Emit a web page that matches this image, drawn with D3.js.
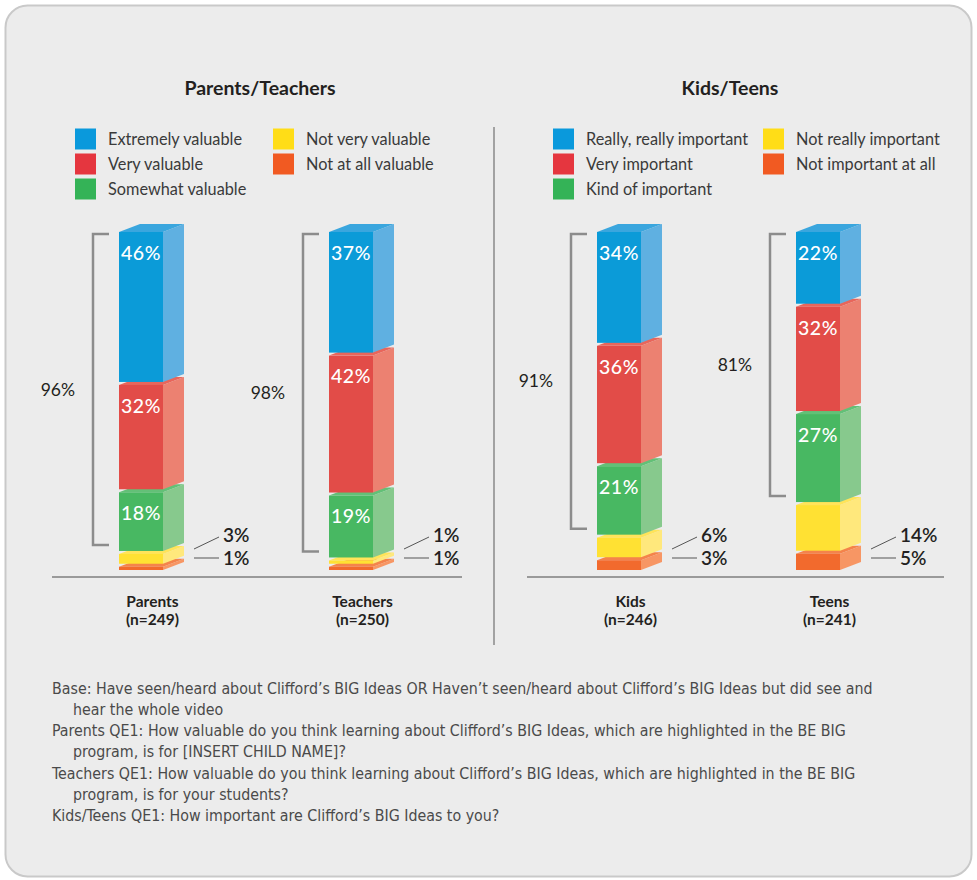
<!DOCTYPE html>
<html>
<head>
<meta charset="utf-8">
<script src="https://cdn.jsdelivr.net/npm/d3@7"></script>
<style>
  html, body { margin: 0; padding: 0; background: #ffffff; }
  svg { display: block; }
</style>
</head>
<body>
<svg id="chart" width="977" height="880"></svg>
<script>
// ---------------- DATA ----------------
const panelTitles = ["Parents/Teachers", "Kids/Teens"];
const categories = ["Parents", "Teachers", "Kids", "Teens"];
const sampleSizes = ["(n=249)", "(n=250)", "(n=246)", "(n=241)"];
const panelOfCategory = [0, 0, 1, 1];
const parentsTeachersLevels = ["Extremely valuable", "Very valuable", "Somewhat valuable", "Not very valuable", "Not at all valuable"];
const kidsTeensLevels = ["Really, really important", "Very important", "Kind of important", "Not really important", "Not important at all"];
// values top-to-bottom: level 1..5
const parentsValues = [46, 32, 18, 3, 1];
const teachersValues = [37, 42, 19, 1, 1];
const kidsValues = [34, 36, 21, 6, 3];
const teensValues = [22, 32, 27, 14, 5];
const topThreeTotals = [96, 98, 91, 81];
const footnotes = [
  "Base: Have seen/heard about Clifford\u2019s BIG Ideas OR Haven\u2019t seen/heard about Clifford\u2019s BIG Ideas but did see and",
  "hear the whole video",
  "Parents QE1:  How valuable do you think learning about Clifford\u2019s BIG Ideas, which are highlighted in the BE BIG",
  "program, is for [INSERT CHILD NAME]?",
  "Teachers QE1: How valuable do you think learning about Clifford\u2019s BIG Ideas, which are highlighted in the BE BIG",
  "program, is for your students?",
  "Kids/Teens QE1: How important are Clifford\u2019s BIG Ideas to you?"
];
const footnoteIndented = [false, true, false, true, false, true, false];

// ---------------- STYLE ----------------
const legendColors = ["#0a99dc", "#e5363f", "#34b357", "#ffdd17", "#f15a22"];
const frontColors  = ["#0b9bd8", "#e24c48", "#48b862", "#ffe133", "#f26a2d"];
const sideColors   = ["#5fb0e1", "#ec8171", "#87c98d", "#ffe87c", "#f79664"];
const topColors    = ["#3aa6de", "#e8665b", "#63c077", "#ffe45a", "#f4834b"];

const allValues = [parentsValues, teachersValues, kidsValues, teensValues];
const levelsByPanel = [parentsTeachersLevels, kidsTeensLevels];

const svg = d3.select("#chart");
const FONT = "Lato, 'Open Sans', sans-serif";

// card
svg.append("rect")
  .attr("x", 5.5).attr("y", 5.5).attr("width", 966).attr("height", 871)
  .attr("rx", 22).attr("ry", 22)
  .attr("fill", "#ececec").attr("stroke", "#c9c9c9").attr("stroke-width", 2);

// scales
const barBottom = 570;
const h = d3.scaleLinear().domain([0, 100]).range([0, 326]);
const xPanels = [
  d3.scalePoint().domain(categories.slice(0, 2)).range([141, 351]),
  d3.scalePoint().domain(categories.slice(2, 4)).range([619, 818])
];
const barW = 44, depthX = 21, depthY = 8, gap = 3;

// panel titles
const titleX = [260, 730];
panelTitles.forEach((t, i) => {
  svg.append("text").attr("x", titleX[i]).attr("y", 88).attr("dy", "0.35em")
    .attr("text-anchor", "middle").attr("font-family", FONT)
    .attr("font-weight", 700).attr("font-size", 19.5).attr("fill", "#231f20").text(t);
});

// divider
svg.append("line").attr("x1", 494).attr("x2", 494).attr("y1", 127).attr("y2", 645)
  .attr("stroke", "#8a8a8a").attr("stroke-width", 1.5);

// legends
const legendCols = [[75, 273], [553, 763]];
const legendRowY = [139, 164, 189];
levelsByPanel.forEach((levels, p) => {
  const g = svg.append("g");
  levels.forEach((lab, i) => {
    const col = i < 3 ? 0 : 1;
    const row = i < 3 ? i : i - 3;
    const lx = legendCols[p][col], ly = legendRowY[row];
    g.append("rect").attr("x", lx).attr("y", ly - 10.5).attr("width", 21).attr("height", 21)
      .attr("fill", legendColors[i]);
    g.append("text").attr("x", lx + 33).attr("y", ly).attr("dy", "0.35em")
      .attr("font-family", FONT).attr("font-size", 16.3).attr("fill", "#3a3a3a")
      .text(lab);
  });
});

// baselines
const baseY = 577;
[[52, 462], [527, 944]].forEach(([a, b]) => {
  svg.append("line").attr("x1", a).attr("x2", b).attr("y1", baseY).attr("y2", baseY)
    .attr("stroke", "#9a9a9a").attr("stroke-width", 2);
});

// bars
categories.forEach((cat, ci) => {
  const p = panelOfCategory[ci];
  const cx = xPanels[p](cat);
  const x0 = cx - barW / 2, x1 = cx + barW / 2;
  const vals = allValues[ci];
  // stacking from bottom: level 5 at bottom, separated by gaps
  const segs = [];
  let pos = barBottom;
  for (let i = vals.length - 1; i >= 0; i--) {
    const yB = pos, yT = pos - h(vals[i]);
    segs.push({ level: i, v: vals[i], yB, yT });
    pos = yT - gap;
  }
  const g = svg.append("g");
  segs.forEach(s => {
    const { yB, yT } = s;
    g.append("path")
      .attr("d", `M${x1},${yT} L${x1 + depthX},${yT - depthY} L${x1 + depthX},${yB - depthY} L${x1},${yB} Z`)
      .attr("fill", sideColors[s.level]);
    g.append("path")
      .attr("d", `M${x0},${yT} L${x0 + depthX},${yT - depthY} L${x1 + depthX},${yT - depthY} L${x1},${yT} Z`)
      .attr("fill", topColors[s.level]);
    g.append("rect").attr("x", x0).attr("y", yT).attr("width", barW).attr("height", yB - yT)
      .attr("fill", frontColors[s.level]);
    if (s.level < 3) {
      g.append("text").attr("x", cx).attr("y", yT + 21).attr("dy", "0.35em")
        .attr("text-anchor", "middle").attr("font-family", FONT).attr("font-size", 19.5)
        .attr("font-weight", 500).attr("fill", "#ffffff").attr("letter-spacing", 0.6)
        .text(s.v + "%");
    }
  });

  // bracket for top three
  const greenSeg = segs.find(s => s.level === 2);
  const blueSeg = segs.find(s => s.level === 0);
  const bTop = blueSeg.yT + 2, bBot = greenSeg.yB - 6;
  const bx = x0 - 26, tx = x0 - 10;
  g.append("path")
    .attr("d", `M${tx},${bTop} L${bx},${bTop} L${bx},${bBot} L${tx},${bBot}`)
    .attr("fill", "none").attr("stroke", "#8c8c8c").attr("stroke-width", 2.5);
  g.append("text").attr("x", bx - 18).attr("y", (bTop + bBot) / 2).attr("dy", "0.35em")
    .attr("text-anchor", "end").attr("font-family", FONT).attr("font-size", 17.5)
    .attr("fill", "#231f20").text(topThreeTotals[ci] + "%");

  // bottom two labels with leaders
  const lx = x1 + depthX + 10;
  g.append("line").attr("x1", lx).attr("y1", 549).attr("x2", lx + 25).attr("y2", 537)
    .attr("stroke", "#555").attr("stroke-width", 1);
  g.append("line").attr("x1", lx).attr("y1", 558).attr("x2", lx + 25).attr("y2", 558)
    .attr("stroke", "#555").attr("stroke-width", 1);
  g.append("text").attr("x", lx + 29).attr("y", 535).attr("dy", "0.35em")
    .attr("font-family", FONT).attr("font-size", 19).attr("font-weight", 600)
    .attr("fill", "#231f20").text(vals[3] + "%");
  g.append("text").attr("x", lx + 29).attr("y", 558).attr("dy", "0.35em")
    .attr("font-family", FONT).attr("font-size", 19).attr("font-weight", 600)
    .attr("fill", "#231f20").text(vals[4] + "%");

  // category labels
  const labX = (x0 + x1 + depthX) / 2 + 1;
  g.append("text").attr("x", labX).attr("y", 602).attr("dy", "0.35em")
    .attr("text-anchor", "middle").attr("font-family", FONT).attr("font-size", 15.5)
    .attr("font-weight", 700).attr("fill", "#231f20").text(cat);
  g.append("text").attr("x", labX).attr("y", 620).attr("dy", "0.35em")
    .attr("text-anchor", "middle").attr("font-family", FONT).attr("font-size", 15.5)
    .attr("font-weight", 700).attr("fill", "#231f20").text(sampleSizes[ci]);
});

// footnotes
const fg = svg.append("g").attr("font-family", "'Liberation Sans Narrow', 'DejaVu Sans Condensed', sans-serif")
  .attr("fill", "#4a4a4a");
let fs = 16;
const fnTexts = footnotes.map((t, i) =>
  fg.append("text").attr("x", footnoteIndented[i] ? 73 : 52)
    .attr("y", 688 + i * 21.3).attr("dy", "0.35em").attr("font-size", fs).text(t));
const w0 = fnTexts[0].node().getComputedTextLength();
if (w0 > 0) {
  fs = fs * 821 / w0;
  fnTexts.forEach(t => t.attr("font-size", fs));
}
</script>
</body>
</html>
